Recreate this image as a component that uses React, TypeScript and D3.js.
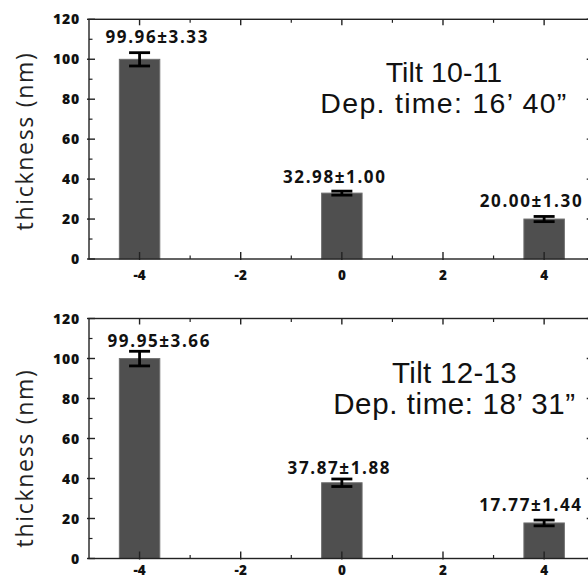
import React from "react";
import * as d3 from "d3";

const positions = [-4, 0, 4];
const xTicks = [-4, -2, 0, 2, 4];
const xMinor = [-3, -1, 1, 3];
const yTicks = [0, 20, 40, 60, 80, 100, 120];
const yMinor = [10, 30, 50, 70, 90, 110];

const panel1Means = [99.96, 32.98, 20.0];
const panel1Errors = [3.33, 1.0, 1.3];
const panel1Labels = ["99.96±3.33", "32.98±1.00", "20.00±1.30"];
const panel1LabelX = [-3.65, -0.14, 3.75];
const panel1LabelY = [107.9, 37.9, 26.2];
const panel1Title = ["Tilt 10-11", "Dep. time: 16’ 40”"];

const panel2Means = [99.95, 37.87, 17.77];
const panel2Errors = [3.66, 1.88, 1.44];
const panel2Labels = ["99.95±3.66", "37.87±1.88", "17.77±1.44"];
const panel2LabelX = [-3.61, -0.05, 3.74];
const panel2LabelY = [105.9, 42.25, 23.9];
const panel2Title = ["Tilt 12-13", "Dep. time: 18’ 31”"];

const yTitle = "thickness (nm)";

const W = 588;
const H = 580;
const BOLD = "'Open Sans', sans-serif";

type PanelProps = {
  top: number;
  bottom: number;
  means: number[];
  errors: number[];
  labels: string[];
  labelX: number[];
  labelY: number[];
  title: string[];
  titleX: number;
  titleY: number;
  titleSize: number;
  titleSpacing: number[];
  yTitleY: number;
  xLabelGap: number;
};

function Panel(p: PanelProps) {
  const x = d3.scaleLinear().domain([-5, 5]).range([89, 594.7]);
  const y = d3.scaleLinear().domain([0, 120]).range([p.bottom, p.top]);
  const barW = x(0.4) - x(0);
  const cap = 10.5;
  const axisColor = "#222";
  return (
    <g>
      {positions.map((v, i) => (
        <rect
          key={"b" + i}
          x={x(v) - barW}
          y={y(p.means[i])}
          width={barW * 2}
          height={y(0) - y(p.means[i])}
          fill="#4f4f4f"
          stroke="#6e6e6e"
          strokeWidth={1}
        />
      ))}
      {positions.map((v, i) => {
        const hi = y(p.means[i] + p.errors[i]);
        const lo = y(p.means[i] - p.errors[i]);
        return (
          <g key={"e" + i} stroke="#000" strokeWidth={2.8}>
            <line x1={x(v)} x2={x(v)} y1={hi} y2={lo} />
            <line x1={x(v) - cap} x2={x(v) + cap} y1={hi} y2={hi} />
            <line x1={x(v) - cap} x2={x(v) + cap} y1={lo} y2={lo} />
          </g>
        );
      })}
      <rect
        x={x(-5)}
        y={y(120)}
        width={x(5) - x(-5)}
        height={y(0) - y(120)}
        fill="none"
        stroke={axisColor}
        strokeWidth={1.4}
      />
      {xTicks.map((t) => (
        <g key={"xt" + t} stroke={axisColor} strokeWidth={1.4}>
          <line x1={x(t)} x2={x(t)} y1={y(0) + 1} y2={y(0) - 7} />
          <line x1={x(t)} x2={x(t)} y1={y(120)} y2={y(120) + 6} />
        </g>
      ))}
      {xMinor.map((t) => (
        <g key={"xm" + t} stroke={axisColor} strokeWidth={1.2}>
          <line x1={x(t)} x2={x(t)} y1={y(0)} y2={y(0) - 3.5} />
          <line x1={x(t)} x2={x(t)} y1={y(120)} y2={y(120) + 3.5} />
        </g>
      ))}
      {yTicks.map((t) => (
        <g key={"yt" + t} stroke={axisColor} strokeWidth={1.4}>
          <line x1={x(-5) - 2} x2={x(-5) + 6} y1={y(t)} y2={y(t)} />
          <line x1={x(5)} x2={x(5) - 8} y1={y(t)} y2={y(t)} />
        </g>
      ))}
      {yMinor.map((t) => (
        <g key={"ym" + t} stroke={axisColor} strokeWidth={1.2}>
          <line x1={x(-5)} x2={x(-5) + 3.5} y1={y(t)} y2={y(t)} />
          <line x1={x(5)} x2={x(5) - 4} y1={y(t)} y2={y(t)} />
        </g>
      ))}
      {yTicks.map((t) => (
        <text
          key={"yl" + t}
          x={80}
          y={y(t)}
          dy="0.36em"
          textAnchor="end"
          fontFamily={BOLD}
          fontWeight={800}
          fontSize={14}
          letterSpacing={0.8}
          fill="#111"
        >
          {t}
        </text>
      ))}
      {xTicks.map((t) => (
        <text
          key={"xl" + t}
          x={x(t)}
          y={y(0) + p.xLabelGap}
          textAnchor="middle"
          fontFamily={BOLD}
          fontWeight={800}
          fontSize={13.5}
          fill="#111"
        >
          {t}
        </text>
      ))}
      {p.labels.map((s, i) => (
        <text
          key={"v" + i}
          x={x(p.labelX[i])}
          y={y(p.labelY[i])}
          textAnchor="middle"
          fontFamily={BOLD}
          fontWeight={700}
          fontSize={17}
          letterSpacing={1.6}
          fill="#111"
        >
          {s}
        </text>
      ))}
      {p.title.map((s, i) => (
        <text
          key={"t" + i}
          x={p.titleX}
          y={p.titleY + i * 30.5}
          textAnchor="middle"
          fontFamily="'Liberation Sans', Arial, sans-serif"
          fontSize={p.titleSize}
          letterSpacing={p.titleSpacing[i]}
          fill="#111"
        >
          {s}
        </text>
      ))}
      <text
        transform={`translate(33,${p.yTitleY}) rotate(-90)`}
        textAnchor="middle"
        fontFamily="'Open Sans', sans-serif"
        fontSize={23}
        letterSpacing={1.7}
        fill="#222"
      >
        {yTitle}
      </text>
    </g>
  );
}

export default function App() {
  return (
    <svg
      width={W}
      height={H}
      style={{ position: "absolute", left: 0, top: 0, background: "#fff" }}
    >
      <rect width={W} height={H} fill="#fff" />
      <Panel
        top={19.3}
        bottom={259}
        means={panel1Means}
        errors={panel1Errors}
        labels={panel1Labels}
        labelX={panel1LabelX}
        labelY={panel1LabelY}
        title={panel1Title}
        titleX={444}
        titleY={82}
        titleSize={28.5}
        titleSpacing={[0.1, 1.3]}
        yTitleY={141}
        xLabelGap={21}
      />
      <Panel
        top={318.5}
        bottom={558.5}
        means={panel2Means}
        errors={panel2Errors}
        labels={panel2Labels}
        labelX={panel2LabelX}
        labelY={panel2LabelY}
        title={panel2Title}
        titleX={454.5}
        titleY={383}
        titleSize={29.5}
        titleSpacing={[0.3, 0.6]}
        yTitleY={458}
        xLabelGap={16.5}
      />
    </svg>
  );
}
